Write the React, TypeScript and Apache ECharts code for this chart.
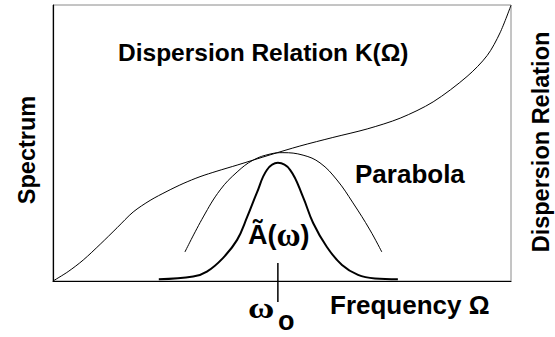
import React, { useEffect, useRef } from "react";
import * as echarts from "echarts";

// Dispersion relation K(Ω), sampled along the frequency axis (arbitrary units 0..100)
const dispersionX = [0, 3.3, 6.6, 10.3, 14.0, 17.5, 21.2, 24.9, 28.4, 32.1, 35.8, 40.2, 47.4, 53.9, 61.1, 68.6, 75.8, 83.0, 90.4, 94.8, 97.6, 100];
const dispersionY = [0, 3.4, 7.6, 13.3, 19.3, 25.0, 29.2, 32.5, 35.3, 37.8, 39.8, 42.0, 45.7, 48.9, 52.0, 55.1, 59.0, 64.9, 74.1, 81.7, 89.9, 99.9];

// Parabolic approximation around the carrier frequency
const parabolaX = [28.8, 32.8, 36.5, 40.2, 43.7, 47.4, 50.2, 54.6, 58.3, 62.0, 65.5, 69.2, 71.8];
const parabolaY = [10.5, 23.2, 33.0, 39.5, 43.8, 46.0, 46.5, 45.6, 42.8, 36.6, 28.3, 18.5, 10.5];

// Spectrum Ã(ω) of the pulse
const spectrumX = [23.1, 30.6, 33.6, 37.1, 40.2, 42.4, 44.5, 46.7, 49.1, 51.8, 54.6, 56.8, 59.8, 63.1, 66.6, 70.3, 75.3];
const spectrumY = [0.6, 1.6, 3.4, 8.3, 14.9, 23.2, 31.9, 40.2, 42.8, 40.2, 30.4, 21.0, 12.3, 5.8, 2.2, 0.9, 0.6];

// Carrier frequency ω0 marker
const omega0 = 49.1;
const omegaTickY = [6.5, -7.6];

const zip = (xs: number[], ys: number[]) => xs.map((x, i) => [x, ys[i]]);

const SANS = '"Liberation Sans", Arial, sans-serif';
const SERIF = '"Liberation Serif", "Times New Roman", serif';

const label = (x: number, y: number, text: string, font: string, extra: object = {}) => ({
  type: "text",
  x,
  y,
  ...extra,
  style: {
    text,
    font,
    fill: "#000",
    textAlign: "left",
    textVerticalAlign: "middle",
  },
});

export default function App() {
  const ref = useRef<HTMLDivElement>(null);

  useEffect(() => {
    document.body.style.margin = "0";
    if (!ref.current) return;
    const chart = echarts.init(ref.current, undefined, { renderer: "svg" });

    const thin = { color: "#000", width: 1 };
    const bareAxis = {
      type: "value",
      min: 0,
      max: 100,
      axisLine: { show: true, lineStyle: { color: "#000", width: 1.2 } },
      axisTick: { show: false },
      axisLabel: { show: false },
      splitLine: { show: false },
    };

    chart.setOption({
      animation: false,
      backgroundColor: "#fff",
      grid: {
        left: 53,
        top: 5,
        right: 44,
        bottom: 56,
        show: true,
        borderColor: "#8a8a8a",
        borderWidth: 1,
        backgroundColor: "transparent",
      },
      xAxis: bareAxis,
      yAxis: bareAxis,
      series: [
        {
          name: "Dispersion Relation",
          type: "line",
          data: zip(dispersionX, dispersionY),
          smooth: 0.3,
          symbol: "none",
          lineStyle: thin,
        },
        {
          name: "Parabola",
          type: "line",
          data: zip(parabolaX, parabolaY),
          smooth: 0.4,
          symbol: "none",
          lineStyle: thin,
        },
        {
          name: "Spectrum",
          type: "line",
          data: zip(spectrumX, spectrumY),
          smooth: 0.4,
          symbol: "none",
          lineStyle: { color: "#000", width: 2 },
        },
        {
          name: "ω0",
          type: "line",
          data: omegaTickY.map((y) => [omega0, y]),
          clip: false,
          symbol: "none",
          lineStyle: { color: "#000", width: 1.5 },
        },
      ],
      graphic: [
        label(118, 52.5, "Dispersion Relation K(Ω)", `bold 24.5px ${SANS}`),
        label(355, 174, "Parabola", `bold 26px ${SANS}`),
        label(330, 305, "Frequency Ω", `bold 26px ${SANS}`),
        {
          type: "text",
          x: 248,
          y: 235,
          style: {
            rich: {
              a: { font: `bold 27px ${SANS}` },
              w: { font: `bold 33px ${SERIF}` },
            },
            text: "{a|Ã(}{w|ω}{a|)}",
            fill: "#000",
            textAlign: "left",
            textVerticalAlign: "middle",
          },
        },
        label(248, 308, "ω", `bold 30px ${SERIF}`, { scaleX: 1.2 }),
        label(278, 321, "o", `bold 27px ${SANS}`),
        {
          type: "text",
          x: 27,
          y: 150,
          rotation: Math.PI / 2,
          style: {
            text: "Spectrum",
            font: `bold 23.5px ${SANS}`,
            fill: "#000",
            textAlign: "center",
            textVerticalAlign: "middle",
          },
        },
        {
          type: "text",
          x: 541,
          y: 142,
          rotation: Math.PI / 2,
          style: {
            text: "Dispersion Relation",
            font: `bold 23.5px ${SANS}`,
            fill: "#000",
            textAlign: "center",
            textVerticalAlign: "middle",
          },
        },
      ],
    });

    return () => chart.dispose();
  }, []);

  return <div ref={ref} style={{ width: 555, height: 337 }} />;
}
